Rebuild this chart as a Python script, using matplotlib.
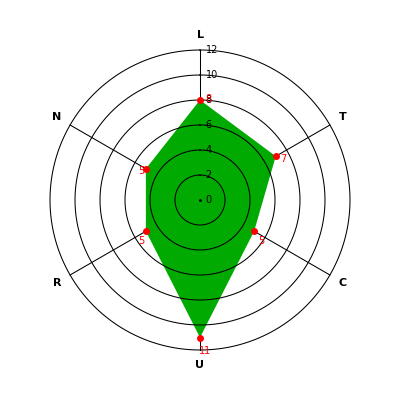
import numpy as np
import matplotlib.pyplot as plt

labels = ['L', 'T', 'C', 'U', 'R', 'N']
values = [8, 7, 5, 11, 5, 5]
rings = [2, 4, 6, 8, 10, 12]
ring_labels = ['0', '2', '4', '6', '8', '10', '12']

# where the red value labels sit relative to the point (in pixels)
offsets = [(8, 1), (8, -3), (7, -10), (5, -14), (-5, -10), (-5, -2)]

n = len(labels)
angles = np.arange(n) * 2 * np.pi / n

fig = plt.figure(figsize=(4, 4), dpi=100)
ax = fig.add_axes([0.125, 0.125, 0.75, 0.75], projection='polar')
ax.set_theta_zero_location('N')
ax.set_theta_direction(-1)
ax.set_ylim(0, 12)
ax.grid(False)
ax.spines['polar'].set_visible(False)
ax.set_xticks([])
ax.set_yticks([])

# spokes
for a in angles:
    ax.plot([a, a], [0, 12], color='black', lw=0.75, zorder=1, clip_on=False)

# filled polygon
th = np.append(angles, angles[0])
vv = np.append(values, values[0])
ax.fill(th, vv, color='#00aa00', zorder=2, lw=0)

# rings
t = np.linspace(0, 2 * np.pi, 400)
for r in rings:
    ax.plot(t, np.full_like(t, r), color='black', lw=0.75, zorder=3, clip_on=False)
ax.plot([0], [0], marker='.', ms=2, color='black', zorder=3)

# ring labels along the top axis
for i, s in enumerate(ring_labels):
    ax.annotate(s, (0, i * 2), xytext=(4, 0), textcoords='offset points',
                fontsize=7, ha='left', va='center', zorder=4)

# points and value labels
ax.plot(angles, values, 'o', color='red', ms=4, zorder=5)
for a, v, off in zip(angles, values, offsets):
    ax.annotate(str(v), (a, v), xytext=(off[0] * 0.72, off[1] * 0.72),
                textcoords='offset points', color='red', fontsize=7,
                ha='center', va='center', zorder=6)

# axis letters
for a, s in zip(angles, labels):
    ax.text(a, 13.2, s, fontsize=8, fontweight='bold', ha='center', va='center')

fig.savefig('out.png', dpi=100)
